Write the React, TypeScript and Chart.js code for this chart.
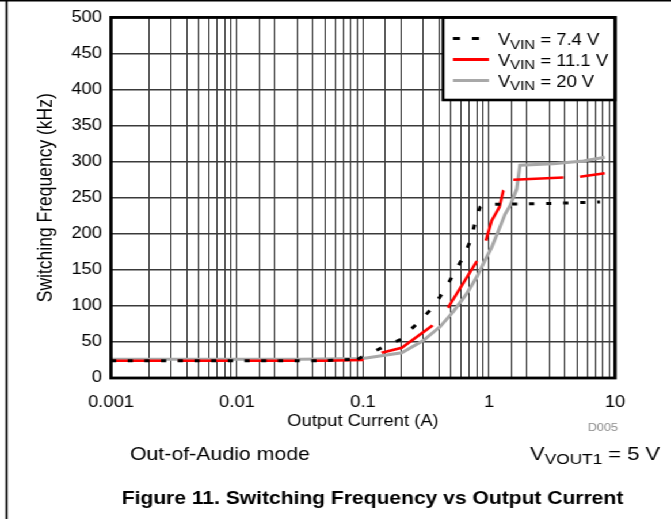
import React, { useEffect, useRef } from 'react';
import { Chart, registerables } from 'chart.js';

Chart.register(...registerables);

// Output current (A) and switching frequency (kHz), one pair of arrays per input voltage
const CURRENT_7V4 = [0.001, 0.01, 0.05, 0.09, 0.107, 0.145, 0.196, 0.267, 0.355, 0.44, 0.527, 0.625, 0.716, 0.775, 0.85, 0.9, 1.15, 3, 7.6];
const FREQ_7V4 = [24, 24, 24, 26, 32, 43, 53, 75, 97, 121, 145, 168, 191, 216, 237, 240, 241, 242, 244];

const CURRENT_11V1 = [0.001, 0.01, 0.05, 0.105, 0.141, 0.203, 0.351, 0.475, 0.822, 0.946, 1.05, 1.21, 1.3, 1.56, 3.89, 5.27, 8.3];
const FREQ_11V1 = [24, 24, 24, 25, 35, 42, 72, 98, 165, 191, 218, 237, 260, 275, 278, 279, 284];

const CURRENT_20V = [0.001, 0.01, 0.0316, 0.1, 0.203, 0.301, 0.408, 0.521, 0.665, 0.799, 0.929, 1.05, 1.22, 1.34, 1.47, 1.66, 1.76, 3.24, 5.6, 8.3];
const FREQ_20V = [26, 26, 26, 27, 35, 52, 71, 92, 117, 140, 163, 181, 209, 227, 239, 262, 295, 297, 301, 306];

const SERIES_VOLTAGES = ['7.4 V', '11.1 V', '20 V'];
const SERIES_COLORS = ['#000000', '#ff0000', '#a8a8a8'];

const X_MIN = 0.001;
const X_MAX = 10;
const X_TICK_LABELS = ['0.001', '0.01', '0.1', '1', '10'];
const Y_MIN = 0;
const Y_MAX = 500;
const Y_STEP = 50;

const X_TITLE = 'Output Current (A)';
const Y_TITLE = 'Switching Frequency (kHz)';
const CAPTION = 'Figure 11. Switching Frequency vs Output Current';
const MODE_NOTE = 'Out-of-Audio mode';
const GRAPH_ID = 'D005';

const FONT = '"Liberation Sans", Arial, Helvetica, sans-serif';

// The drawing is made on a narrower canvas and widened horizontally on the page,
// which gives the wide Helvetica lettering of the datasheet figure.
const SX = 1.151;
const PAGE_W = 671;
const H = 519;
const W = Math.round(PAGE_W / SX);
const px = (x: number) => x / SX;

// plot area on the page
const PLOT_L = 111;
const PLOT_R = 615;
const PLOT_T = 16;
const PLOT_B = 378;
const X_AXIS_BOTTOM = 431.5;

// dash styles: the flat stretches and the rising part of each curve are dashed separately
type Dash = { dash: number[]; offset: number };
const DOTS_FLAT_LOW: Dash = { dash: [4.5, 10], offset: 0 };
const DOTS_RISE: Dash = { dash: [5, 14], offset: 0 };
const DOTS_FLAT_HIGH: Dash = { dash: [4.5, 10.3], offset: 4.5 };
const DASH_FLAT_LOW: Dash = { dash: [44.7, 13.6], offset: 0 };
const DASH_RISE: Dash = { dash: [53, 22], offset: 59.3 };
const DASH_FLAT_HIGH: Dash = { dash: [43.6, 14.4], offset: 0 };

function dashBy(xs: number[], riseFrom: number, riseTo: number, low: Dash, rise: Dash, high: Dash) {
  return (c: any): Dash => {
    const x0 = xs[c.p0DataIndex];
    if (x0 < riseFrom) return low;
    if (x0 < riseTo) return rise;
    return high;
  };
}

const dots74 = dashBy(CURRENT_7V4, 0.09, 0.9, DOTS_FLAT_LOW, DOTS_RISE, DOTS_FLAT_HIGH);
const dash111 = dashBy(CURRENT_11V1, 0.1, 1.5, DASH_FLAT_LOW, DASH_RISE, DASH_FLAT_HIGH);

function subLabelWidth(ctx: CanvasRenderingContext2D, main: string, sub: string, rest: string, size: number, subSize: number) {
  ctx.font = `${size}px ${FONT}`;
  let w = ctx.measureText(main).width + ctx.measureText(rest).width;
  ctx.font = `${subSize}px ${FONT}`;
  w += ctx.measureText(sub).width;
  return w;
}

function drawSubLabel(ctx: CanvasRenderingContext2D, x: number, baseline: number, main: string, sub: string, rest: string, size: number, subSize: number) {
  ctx.textAlign = 'left';
  ctx.textBaseline = 'alphabetic';
  ctx.font = `${size}px ${FONT}`;
  ctx.fillText(main, x, baseline);
  x += ctx.measureText(main).width;
  ctx.font = `${subSize}px ${FONT}`;
  ctx.fillText(sub, x, baseline + subSize * 0.27);
  x += ctx.measureText(sub).width;
  ctx.font = `${size}px ${FONT}`;
  ctx.fillText(rest, x, baseline);
}

const decorations = {
  id: 'decorations',
  afterDatasetsDraw(chart: any) {
    const { ctx, chartArea: a } = chart;
    ctx.save();

    // legend box inside the top-right corner of the plot
    const lx = px(443);
    const lb = 100;
    ctx.fillStyle = '#ffffff';
    ctx.fillRect(lx, a.top, a.right - lx, lb - a.top);
    ctx.strokeStyle = '#000000';
    ctx.lineWidth = 2.6;
    ctx.strokeRect(lx, a.top, a.right - lx, lb - a.top);

    SERIES_VOLTAGES.forEach((v, i) => {
      const ly = 38.5 + i * 21;
      ctx.beginPath();
      ctx.strokeStyle = SERIES_COLORS[i];
      ctx.lineWidth = 3;
      ctx.lineCap = 'butt';
      if (i === 0) {
        ctx.setLineDash([px(7), px(12)]);
        ctx.moveTo(px(453), ly);
        ctx.lineTo(px(479), ly);
      } else {
        ctx.setLineDash([]);
        ctx.moveTo(px(453), ly);
        ctx.lineTo(px(489), ly);
      }
      ctx.stroke();
      ctx.setLineDash([]);
      ctx.fillStyle = '#000000';
      drawSubLabel(ctx, px(498), 45 + i * 20.8, 'V', 'VIN', ` = ${v}`, 16, 13);
    });

    // heavy frame around the plot
    ctx.strokeStyle = '#000000';
    ctx.lineWidth = 2.8;
    ctx.strokeRect(a.left, a.top, a.right - a.left, a.bottom - a.top);
    ctx.restore();
  },
  afterDraw(chart: any) {
    const { ctx } = chart;
    ctx.save();

    // figure outline (top and left rules)
    ctx.fillStyle = '#000000';
    ctx.fillRect(0, 0, W, 1.5);
    ctx.fillRect(px(5.5), 0, px(2), H);

    ctx.fillStyle = '#8c8c8c';
    ctx.font = `11px ${FONT}`;
    ctx.textAlign = 'right';
    ctx.textBaseline = 'middle';
    ctx.fillText(GRAPH_ID, px(618), 428);

    ctx.fillStyle = '#000000';
    ctx.font = `18.5px ${FONT}`;
    ctx.textAlign = 'left';
    ctx.textBaseline = 'alphabetic';
    ctx.fillText(MODE_NOTE, px(130), 459.5);

    const vw = subLabelWidth(ctx, 'V', 'VOUT1', ' = 5 V', 19, 15);
    drawSubLabel(ctx, px(660) - vw, 459.5, 'V', 'VOUT1', ' = 5 V', 19, 15);

    ctx.font = `bold 18.3px ${FONT}`;
    ctx.textAlign = 'center';
    ctx.fillText(CAPTION, px(372.5), 503.5);
    ctx.restore();
  },
};

function points(xs: number[], ys: number[]) {
  return xs.map((x, i) => ({ x, y: ys[i] }));
}

export default function App() {
  const canvasRef = useRef<HTMLCanvasElement | null>(null);

  useEffect(() => {
    const canvas = canvasRef.current;
    if (!canvas) return;

    const chart = new Chart(canvas, {
      type: 'line',
      data: {
        datasets: [
          {
            label: SERIES_VOLTAGES[0],
            data: points(CURRENT_7V4, FREQ_7V4),
            borderColor: SERIES_COLORS[0],
            borderWidth: 3,
            borderCapStyle: 'butt',
            segment: {
              borderDash: (c: any) => dots74(c).dash,
              borderDashOffset: (c: any) => dots74(c).offset,
            },
            pointRadius: 0,
            tension: 0,
          },
          {
            label: SERIES_VOLTAGES[1],
            data: points(CURRENT_11V1, FREQ_11V1),
            borderColor: SERIES_COLORS[1],
            borderWidth: 2.6,
            borderCapStyle: 'butt',
            segment: {
              borderDash: (c: any) => dash111(c).dash,
              borderDashOffset: (c: any) => dash111(c).offset,
            },
            pointRadius: 0,
            tension: 0,
          },
          {
            label: SERIES_VOLTAGES[2],
            data: points(CURRENT_20V, FREQ_20V),
            borderColor: SERIES_COLORS[2],
            borderWidth: 3,
            pointRadius: 0,
            tension: 0,
          },
        ],
      },
      options: {
        responsive: false,
        animation: false,
        events: [],
        layout: {
          padding: { left: 0, top: PLOT_T, right: W - px(PLOT_R), bottom: H - X_AXIS_BOTTOM },
        },
        plugins: {
          legend: { display: false },
          tooltip: { enabled: false },
        },
        scales: {
          x: {
            type: 'logarithmic',
            min: X_MIN,
            max: X_MAX,
            border: { display: false },
            grid: { color: '#262626', lineWidth: 1, drawTicks: false },
            ticks: {
              autoSkip: false,
              maxRotation: 0,
              padding: 15,
              color: '#000000',
              font: { family: FONT, size: 16 },
              callback: (value: any) => {
                const d = Math.log10(Number(value)) - Math.log10(X_MIN);
                const r = Math.round(d);
                return Math.abs(d - r) < 1e-6 ? X_TICK_LABELS[r] : '';
              },
            },
            title: {
              display: true,
              text: X_TITLE,
              color: '#000000',
              font: { family: FONT, size: 16 },
              padding: 0,
            },
            afterFit: (scale: any) => {
              scale.height = X_AXIS_BOTTOM - PLOT_B;
            },
          },
          y: {
            min: Y_MIN,
            max: Y_MAX,
            border: { display: false },
            grid: { color: '#3a3a3a', lineWidth: 1.5, drawTicks: false },
            ticks: {
              stepSize: Y_STEP,
              padding: px(9),
              color: '#000000',
              font: { family: FONT, size: 16 },
            },
            title: {
              display: true,
              text: Y_TITLE,
              color: '#000000',
              font: { family: FONT, size: 17.5 },
              padding: { top: px(46) - 10.5, bottom: 0 },
            },
            afterFit: (scale: any) => {
              scale.width = px(PLOT_L);
            },
          },
        },
      },
      plugins: [decorations],
    } as any);

    return () => chart.destroy();
  }, []);

  return (
    <div
      style={{
        position: 'fixed',
        left: 0,
        top: 0,
        width: W,
        height: H,
        background: '#ffffff',
        transform: `scaleX(${SX})`,
        transformOrigin: '0 0',
      }}
    >
      <canvas ref={canvasRef} width={W} height={H} style={{ display: 'block', width: W, height: H }} />
    </div>
  );
}
